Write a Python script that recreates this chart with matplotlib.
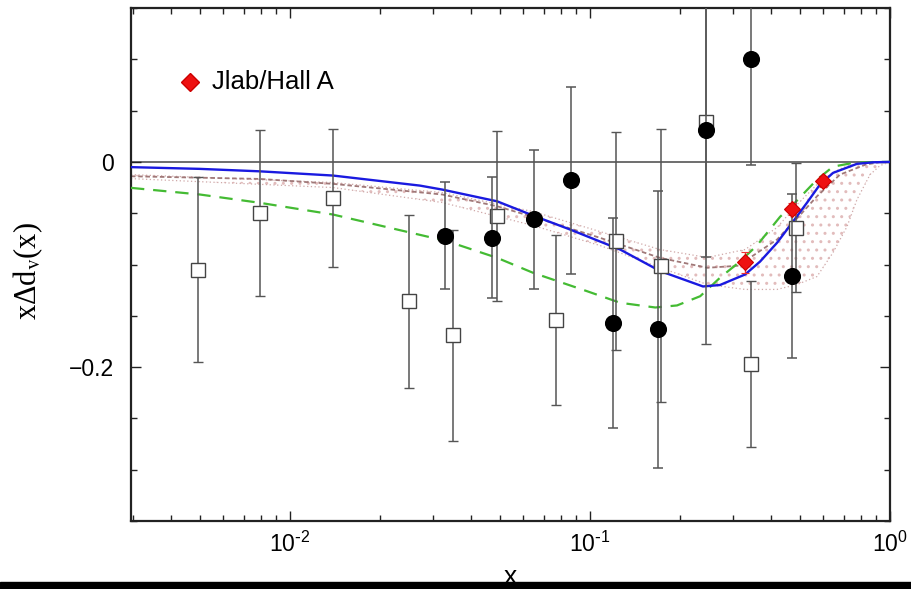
import matplotlib
matplotlib.use("Agg")
import matplotlib.pyplot as plt
from matplotlib.ticker import MultipleLocator, FuncFormatter, LogLocator
from matplotlib.patches import Rectangle

plt.rcParams['font.family'] = ['Liberation Sans', 'DejaVu Sans']
plt.rcParams['mathtext.default'] = 'regular'

# ---- data ----
sq_x = [0.00495, 0.00794, 0.0139, 0.0249, 0.0349, 0.0489, 0.0770, 0.122, 0.173, 0.244, 0.344, 0.486]
sq_y = [-0.105, -0.050, -0.035, -0.136, -0.169, -0.053, -0.154, -0.077, -0.101, 0.039, -0.197, -0.064]
sq_err = [0.090, 0.081, 0.067, 0.084, 0.103, 0.083, 0.083, 0.106, 0.133, 0.216, 0.081, 0.063]

circ_x = [0.0329, 0.0470, 0.0651, 0.0864, 0.119, 0.168, 0.244, 0.343, 0.470]
circ_y = [-0.072, -0.074, -0.056, -0.018, -0.157, -0.163, 0.031, 0.100, -0.111]
circ_err = [0.052, 0.059, 0.068, 0.091, 0.102, 0.135, 0.124, 0.103, 0.080]

jlab_x = [0.329, 0.470, 0.597]
jlab_y = [-0.098, -0.046, -0.019]
jlab_err = [0.010, 0.006, 0.005]

blue_x = [0.00295, 0.00501, 0.00794, 0.0139, 0.0271, 0.0322, 0.0490, 0.0646, 0.0858, 0.108, 0.126,
          0.171, 0.238, 0.271, 0.329, 0.369, 0.420, 0.475, 0.529, 0.584, 0.646, 0.776, 0.878, 1.0]
blue_y = [-0.0051, -0.0068, -0.0092, -0.0133, -0.0231, -0.0270, -0.0384, -0.0523, -0.0659, -0.0776,
          -0.0854, -0.1063, -0.1214, -0.1200, -0.1097, -0.0971, -0.0789, -0.0582, -0.0397, -0.0221,
          -0.0107, -0.0019, -0.0004, 0.0]

green_x = [0.00295, 0.00501, 0.00794, 0.0139, 0.0334, 0.0490, 0.0646, 0.0977, 0.126, 0.165, 0.195,
           0.233, 0.271, 0.316, 0.360, 0.430, 0.471, 0.571, 0.646, 0.753, 0.905, 1.0]
green_y = [-0.0253, -0.0318, -0.0399, -0.0513, -0.0773, -0.0935, -0.1081, -0.1260, -0.1373, -0.1419,
           -0.1399, -0.1309, -0.1130, -0.0971, -0.0815, -0.0535, -0.0428, -0.0172, -0.0046, -0.0010,
           0.0, 0.0]

brown_x = [0.00295, 0.00794, 0.0139, 0.0322, 0.0490, 0.0646, 0.108, 0.171, 0.246, 0.320, 0.342,
           0.420, 0.492, 0.571, 0.681, 0.830, 0.930, 1.0]
brown_y = [-0.0140, -0.0166, -0.0214, -0.0318, -0.0432, -0.0536, -0.0740, -0.0935, -0.1032, -0.1010,
           -0.0932, -0.0757, -0.0545, -0.0335, -0.0124, -0.0026, -0.0002, 0.0]

band_x = [0.00295, 0.0139, 0.0322, 0.0646, 0.108, 0.171, 0.246, 0.329, 0.420, 0.490, 0.571,
          0.646, 0.719, 0.776, 0.858, 0.926, 1.0]
band_lo = [-0.0163, -0.0250, -0.0396, -0.0620, -0.0815, -0.1029, -0.1195, -0.1243, -0.1243, -0.1195,
           -0.1117, -0.0883, -0.0630, -0.0367, -0.0124, -0.0036, 0.0]
band_hi = [-0.0124, -0.0201, -0.0299, -0.0484, -0.0679, -0.0854, -0.0932, -0.0854, -0.0640, -0.0416,
           -0.0221, -0.0100, -0.0040, -0.0017, -0.0005, 0.0, 0.0]

legend_label = "Jlab/Hall A"

# ---- figure ----
fig = plt.figure(figsize=(9.12, 5.89), dpi=100)
ax = fig.add_axes([131/912, 1-521/589, (890-131)/912, (521-8)/589])

ax.set_xscale('log')
ax.set_xlim(2.95e-3, 1.0)
ax.set_ylim(-0.35, 0.15)

ax.axhline(0, color='#555555', lw=1.2, zorder=1)

# uncertainty band
ax.fill_between(band_x, band_lo, band_hi, facecolor='none', edgecolor='#e2bcbc',
                hatch='..', linewidth=0, zorder=1)
ax.plot(band_x, band_lo, color='#cfa8a8', lw=0.9, ls=(0, (1, 2)), zorder=2)
ax.plot(band_x, band_hi, color='#cfa8a8', lw=0.9, ls=(0, (1, 2)), zorder=2)

ax.plot(brown_x, brown_y, color='#a07878', lw=1.3, ls=(0, (2.5, 1.5)), zorder=2)
ax.plot(green_x, green_y, color='#44bb33', lw=1.6, ls=(0, (6, 4)), zorder=3)
ax.plot(blue_x, blue_y, color='#1a1ae0', lw=1.7, zorder=3)

ebar_kw = dict(ecolor='#555555', elinewidth=1.1, capsize=3.6, capthick=1.1, ls='none')
ax.errorbar(sq_x, sq_y, yerr=sq_err, fmt='s', ms=9.6, mfc='white', mec='#444444', mew=1.0,
            zorder=4, **ebar_kw)
ax.errorbar(circ_x, circ_y, yerr=circ_err, fmt='o', ms=11.3, mfc='black', mec='black',
            zorder=5, **ebar_kw)
ax.errorbar(jlab_x, jlab_y, yerr=jlab_err, fmt='D', ms=8, mfc='#ee1111', mec='#cc0000', mew=0.8,
            ecolor='#ee3333', elinewidth=1.0, capsize=3, ls='none', zorder=6)

# legend entry
ax.plot([0.078], [0.856], 'D', ms=9, mfc='#ee1111', mec='#cc0000', transform=ax.transAxes,
        clip_on=False)
ax.text(0.107, 0.856, legend_label, transform=ax.transAxes, fontsize=18.5, va='center', ha='left')

# axes styling
for s in ax.spines.values():
    s.set_linewidth(1.6)
    s.set_color('#222222')


def log_label(v, pos):
    e = int(round(__import__('math').log10(v)))
    return r'$\mathregular{10^{%s}}$' % (r'\text{-}' + str(-e) if e < 0 else str(e))


ax.xaxis.set_major_locator(LogLocator(base=10, numticks=10))
ax.xaxis.set_minor_locator(LogLocator(base=10, subs=range(2, 10), numticks=10))
ax.xaxis.set_major_formatter(FuncFormatter(log_label))
ax.yaxis.set_major_locator(MultipleLocator(0.2))
ax.yaxis.set_minor_locator(MultipleLocator(0.05))
ax.yaxis.set_major_formatter(FuncFormatter(lambda v, p: '0' if abs(v) < 1e-9 else ('%.1f' % v).replace('-', '\u2212')))

ax.tick_params(which='both', direction='in', top=True, right=True, colors='#222222',
               labelsize=16.5, labelcolor='black')
ax.tick_params(which='major', length=7, width=1.0)
ax.tick_params(which='minor', length=4, width=1.0)
ax.tick_params(axis='x', which='major', pad=8)
ax.tick_params(axis='y', which='major', pad=12)

fig.text(28/912, 1-271/589, r'x$\Delta$d$_{\rm v}$(x)', rotation=90, ha='center', va='center',
         fontsize=22, family=['Liberation Serif', 'DejaVu Serif'], math_fontfamily='stix')
fig.text(510/912, 1-584/589, 'x', ha='center', va='baseline', fontsize=19)

fig.add_artist(Rectangle((0, 0), 1, 7/589, transform=fig.transFigure, color='black', zorder=10))

fig.savefig('out.png', dpi=100)
